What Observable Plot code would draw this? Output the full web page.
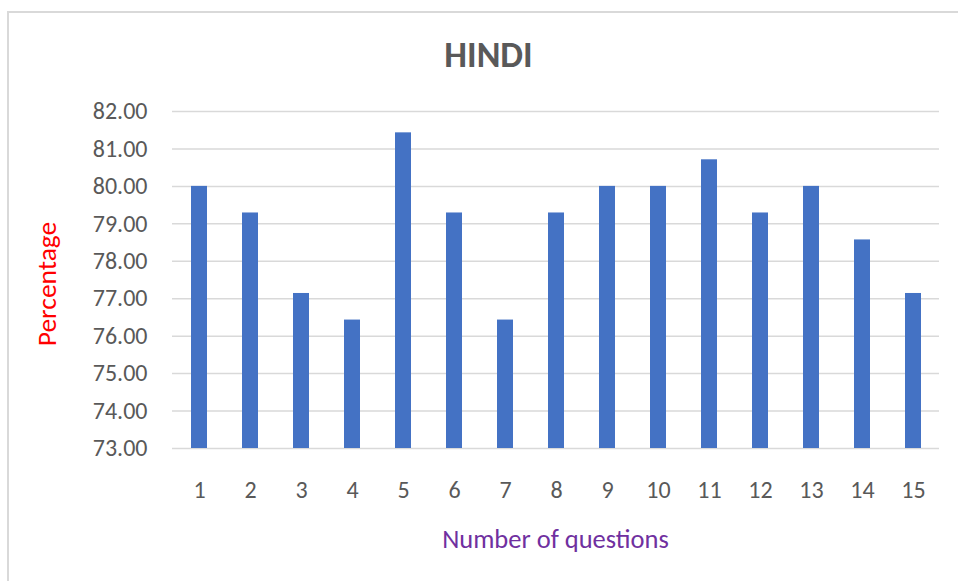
<!DOCTYPE html>
<html>
<head>
<meta charset="utf-8">
<script src="https://cdn.jsdelivr.net/npm/d3@7"></script>
<script src="https://cdn.jsdelivr.net/npm/@observablehq/plot@0.6"></script>
<style>
  html, body { margin: 0; padding: 0; background: #fff; }
  #wrap { position: relative; width: 958px; height: 581px; overflow: hidden; font-family: Carlito, Calibri, Lato, sans-serif; }
  #frame { position: absolute; left: 7px; top: 11px; width: 1000px; height: 700px; border-top: 2px solid #D9D9D9; border-left: 2px solid #D9D9D9; }
  #title { position: absolute; left: 0; width: 977px; top: 37px; text-align: center; font-size: 36px; line-height: 1; font-weight: bold; color: #595959; }
  #ylab { position: absolute; left: 47px; top: 284px; transform: translate(-50%, -50%) rotate(-90deg); font-size: 27.5px; line-height: 1; color: #FF0000; white-space: nowrap; }
  #xlab { position: absolute; left: 0; width: 1111px; top: 526px; text-align: center; font-size: 26.5px; line-height: 1; color: #7030A0; }
  #chart { position: absolute; left: 0; top: 90px; }
</style>
</head>
<body>
<div id="wrap">
  <div id="frame"></div>
  <div id="title">HINDI</div>
  <div id="ylab">Percentage</div>
  <div id="xlab">Number of questions</div>
  <div id="chart"></div>
</div>
<script>
const questions = [1, 2, 3, 4, 5, 6, 7, 8, 9, 10, 11, 12, 13, 14, 15];
const percentages = [80.00, 79.29, 77.14, 76.43, 81.43, 79.29, 76.43, 79.29, 80.00, 80.00, 80.71, 79.29, 80.00, 78.57, 77.14];
const yTicks = [73, 74, 75, 76, 77, 78, 79, 80, 81, 82];
const yMin = 73, yMax = 82;

const data = questions.map((q, i) => ({q, v: percentages[i]}));

const plot = Plot.plot({
  width: 958,
  height: 420,
  marginTop: 21,
  marginBottom: 62,
  marginLeft: 172,
  marginRight: 19,
  style: { fontFamily: "Carlito, Calibri, Lato, sans-serif", fontSize: "24px", color: "#595959", background: "transparent" },
  x: { type: "band", domain: questions, paddingInner: 0.687, paddingOuter: 0.3435 },
  y: { domain: [yMin, yMax] },
  marks: [
    Plot.gridY(yTicks, { stroke: "#D9D9D9", strokeOpacity: 1, strokeWidth: 1.5 }),
    Plot.barY(data, { x: "q", y1: yMin, y2: "v", fill: "#4472C4" }),
    Plot.axisY(yTicks, { tickSize: 0, tickPadding: 25, tickFormat: d3.format(".2f"), label: null, fill: "#595959", fontSize: 24 }),
    Plot.axisX({ tickSize: 0, tickPadding: 32, label: null, fill: "#595959", fontSize: 24 })
  ]
});
document.getElementById("chart").appendChild(plot);
</script>
</body>
</html>
